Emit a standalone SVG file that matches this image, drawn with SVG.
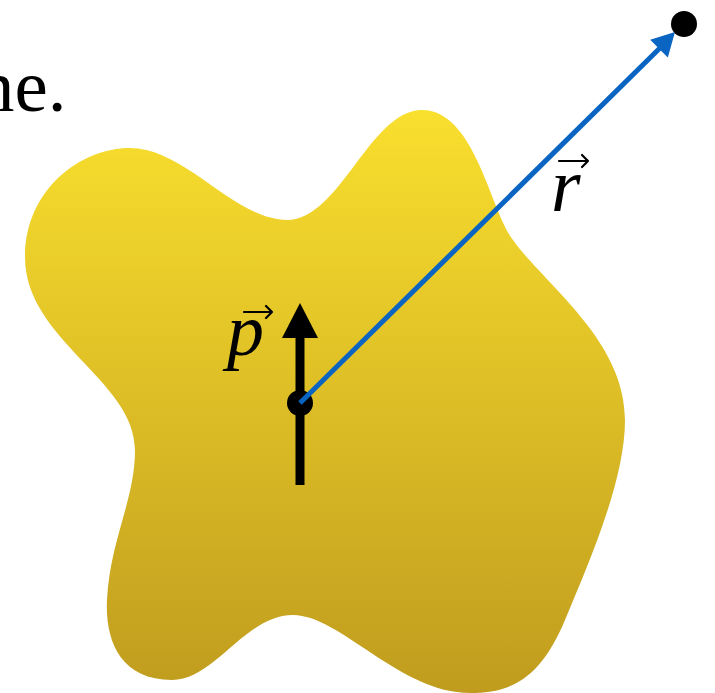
<svg xmlns="http://www.w3.org/2000/svg" width="715" height="693" viewBox="0 0 715 693">
<defs>
<linearGradient id="gold" x1="0" y1="110" x2="0" y2="693" gradientUnits="userSpaceOnUse">
<stop offset="0" stop-color="#F9DF2E"/>
<stop offset="1" stop-color="#C09C1E"/>
</linearGradient>
<style>
.lbl{font-family:"Liberation Serif","DejaVu Serif",serif;fill:#000}
.it{font-style:italic}
.vec{fill:none;stroke:#000;stroke-width:2.2;stroke-linecap:round;stroke-linejoin:round}
</style>
</defs>
<rect width="715" height="693" fill="#fff"/>
<text class="lbl" x="-23" y="111" font-size="75">ne.</text>
<g id="blob">
<path d="M25,257 C25,190 80,148 130,148 C185,148 235,220 287,220 C340,220 370,110 422,110 C475,110 490,210 513,240 C545,285 625,340 625,420 C625,480 590,560 565,620 C540,680 510,693 470,693 C400,693 340,615 293,615 C245,615 215,680 172,680 C120,680 105,640 107,600 C110,540 135,500 135,450 C135,380 25,340 25,257 Z" fill="url(#gold)"/>
</g>
<g id="dipole">
<line x1="300" y1="485" x2="300" y2="334" stroke="#000" stroke-width="9"/>
<polygon points="300,303 318,338 282,338" fill="#000"/>
<circle cx="300" cy="403" r="13" fill="#000"/>
</g>
<g id="connectors">
<line x1="300" y1="403" x2="662" y2="46" stroke="#0A64C2" stroke-width="5"/>
<polygon points="675,32 667.8,57.5 650.2,39.7" fill="#0A64C2"/>
</g>
<g id="point">
<circle cx="684" cy="24" r="13" fill="#000"/>
</g>
<g id="label-p">
<text class="lbl it" x="227" y="355" font-size="74">p</text>
<path class="vec" d="M244,312 H272 M266,306 L272,312 L266,318"/>
</g>
<g id="label-r">
<text class="lbl it" x="551" y="211" font-size="76">r</text>
<path class="vec" d="M559,161 H588 M582,155 L588,161 L582,167"/>
</g>
</svg>
